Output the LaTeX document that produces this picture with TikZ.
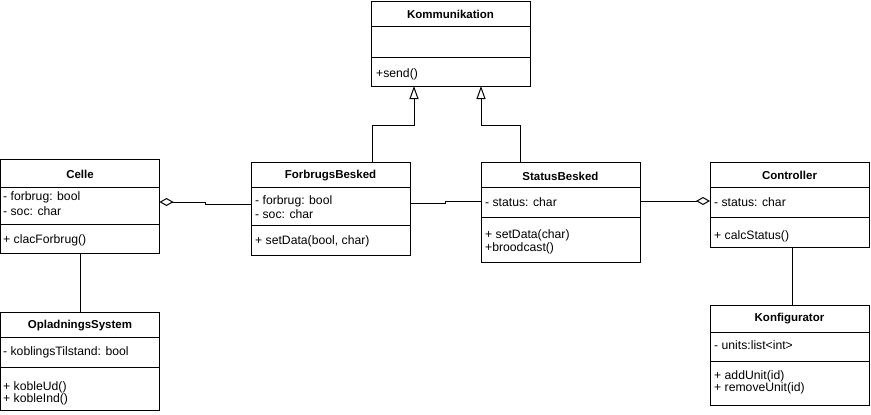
\documentclass[tikz,border=0pt]{standalone}
\usepackage{fontspec}
\setmainfont{Liberation Sans}
\usetikzlibrary{arrows.meta,calc}
\begin{document}
\begin{tikzpicture}[x=1pt,y=-1pt,
  classbox/.style={draw=black,line width=1pt,fill=white,anchor=north west,minimum width=159pt,inner sep=0pt,outer sep=0pt},
  ctitle/.style={font=\fontsize{11.5}{13}\selectfont\bfseries,inner sep=0pt,anchor=center},
  cline/.style={font=\fontsize{12.2}{14}\selectfont,inner sep=0pt,anchor=west},
  sep/.style={line width=1pt},
  conn/.style={line width=1pt},
  agg/.style={conn,-{Diamond[open,length=14pt,width=8pt,line width=1pt]}},
  inh/.style={conn,-{Triangle[open,length=13pt,width=9pt,line width=1pt]}}]
\useasboundingbox (0,0) rectangle (871,415);

% Kommunikation
\node[classbox,minimum height=85pt] (komm) at (371,1) {};
\draw[sep] (371,26) -- (530,26);
\draw[sep] (371,57) -- (530,57);
\node[ctitle] (kommT) at (450.5,14) {Kommunikation};
\node[cline] (kommM1) at (376,74) {+send()};

% Celle
\node[classbox,minimum height=94pt] (celle) at (0.5,159) {};
\draw[sep] (0.5,187) -- (159.5,187);
\draw[sep] (0.5,224) -- (159.5,224);
\node[ctitle] (celleT) at (80,174) {Celle};
\node[cline] (celleA1) at (3,197) {- forbrug: bool};
\node[cline] (celleA2) at (3,211) {- soc: char};
\node[cline] (celleM1) at (3,240) {+ clacForbrug()};

% ForbrugsBesked
\node[classbox,minimum height=93pt] (forb) at (251,162) {};
\draw[sep] (251,187) -- (410,187);
\draw[sep] (251,225) -- (410,225);
\node[ctitle] (forbT) at (330.5,176) {ForbrugsBesked};
\node[cline] (forbA1) at (255,201) {- forbrug: bool};
\node[cline] (forbA2) at (255,214) {- soc: char};
\node[cline] (forbM1) at (255,241) {+ setData(bool, char)};

% StatusBesked
\node[classbox,minimum height=100pt] (stat) at (481,162) {};
\draw[sep] (481,187) -- (640,187);
\draw[sep] (481,217) -- (640,217);
\node[ctitle] (statT) at (560.5,176) {StatusBesked};
\node[cline] (statA1) at (485,202) {- status: char};
\node[cline] (statM1) at (485,235) {+ setData(char)};
\node[cline] (statM2) at (485,248) {+broodcast()};

% Controller
\node[classbox,minimum height=85pt] (ctrl) at (710,162) {};
\draw[sep] (710,187) -- (869,187);
\draw[sep] (710,217) -- (869,217);
\node[ctitle] (ctrlT) at (789.5,175) {Controller};
\node[cline] (ctrlA1) at (714,202) {- status: char};
\node[cline] (ctrlM1) at (714,236) {+ calcStatus()};

% OpladningsSystem
\node[classbox,minimum height=98pt] (opl) at (0.5,312) {};
\draw[sep] (0.5,337) -- (159.5,337);
\draw[sep] (0.5,367) -- (159.5,367);
\node[ctitle] (oplT) at (80,326) {OpladningsSystem};
\node[cline] (oplA1) at (3,352) {- koblingsTilstand: bool};
\node[cline] (oplM1) at (3,387) {+ kobleUd()};
\node[cline] (oplM2) at (3,399) {+ kobleInd()};

% Konfigurator
\node[classbox,minimum height=100pt] (konf) at (710,305) {};
\draw[sep] (710,332) -- (869,332);
\draw[sep] (710,361) -- (869,361);
\node[ctitle] (konfT) at (789.5,319) {Konfigurator};
\node[cline] (konfA1) at (714,345) {- units:list<int>};
\node[cline] (konfM1) at (714,376) {+ addUnit(id)};
\node[cline] (konfM2) at (714,388) {+ removeUnit(id)};

% connectors
\draw[agg] (forb.west |- 0,204) -- (205,204) -- (205,202) -- (celle.east |- 0,202);
\draw[conn] (forb.east |- 0,203) -- (445,203) -- (445,201) -- (stat.west |- 0,201);
\draw[agg] (stat.east |- 0,201) -- (ctrl.west |- 0,201);
\draw[inh] (forb.north -| 372,0) -- (372,125) -- (414,125) -- (komm.south -| 414,0);
\draw[inh] (stat.north -| 520,0) -- (520,125) -- (481,125) -- (komm.south -| 481,0);
\draw[conn] (celle.south -| 80,0) -- (opl.north -| 80,0);
\draw[conn] (ctrl.south -| 792,0) -- (konf.north -| 792,0);
\end{tikzpicture}
\end{document}
